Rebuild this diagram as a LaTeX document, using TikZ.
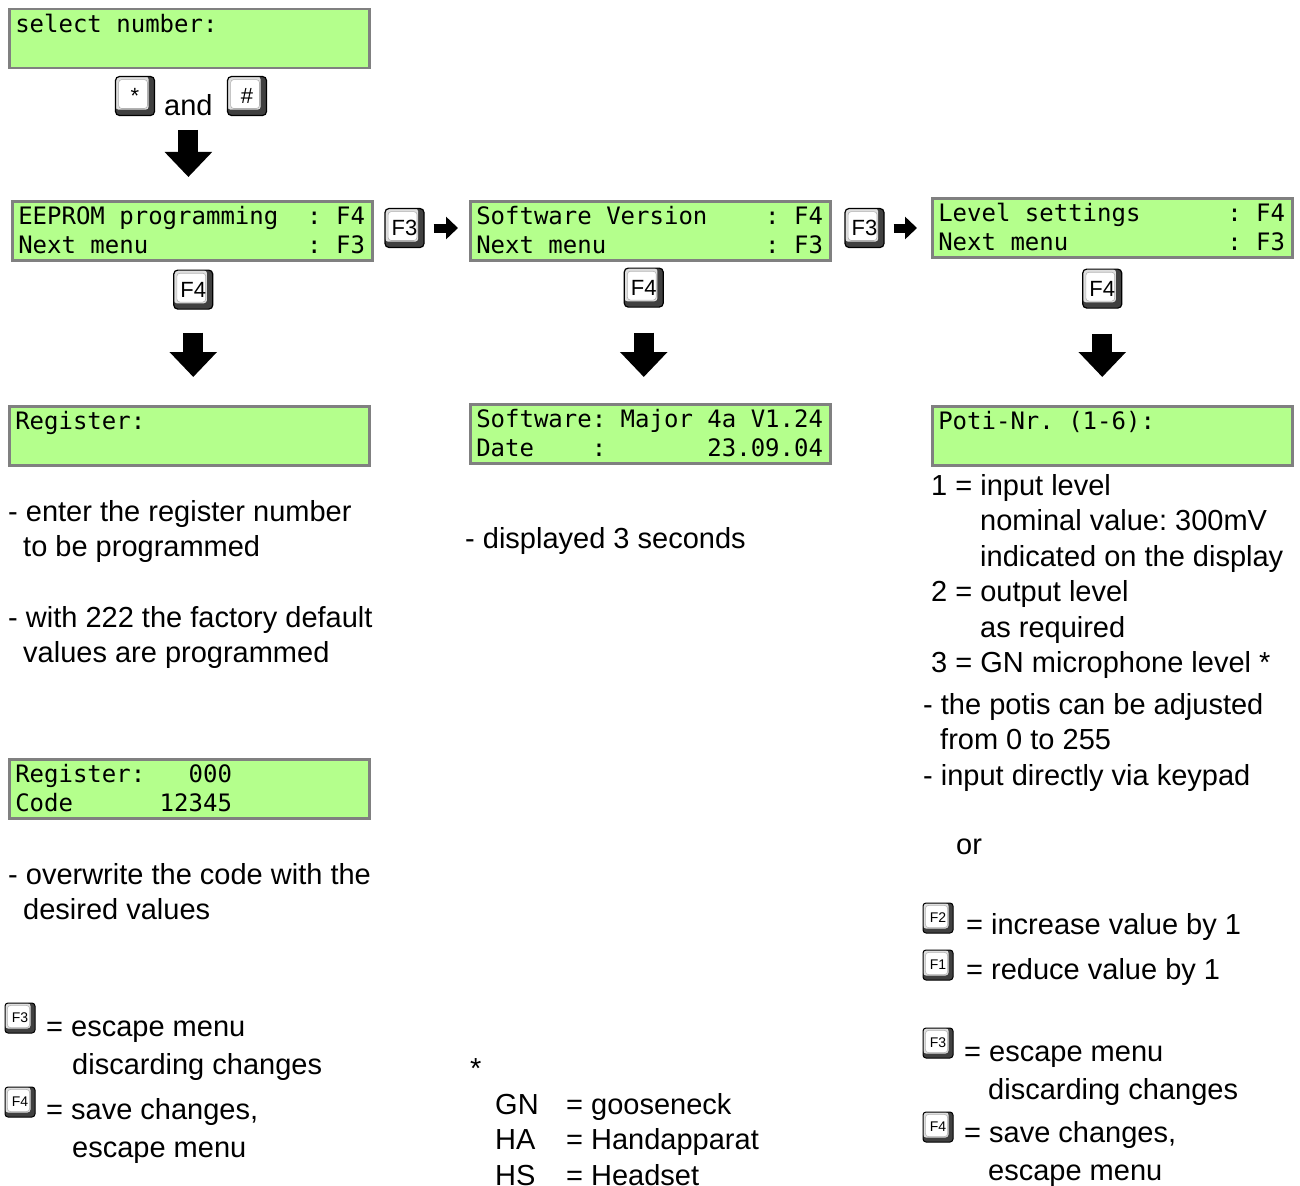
\documentclass[tikz,border=0pt]{standalone}
\usepackage{fontspec}
\setmainfont{Liberation Sans}
\newfontfamily\lcdfont{DejaVu Sans Mono}
\usetikzlibrary{positioning,calc,arrows.meta}
\definecolor{lcdgreen}{RGB}{180,255,140}
\definecolor{lcdframe}{RGB}{128,128,128}
\frenchspacing
% two display rows of fixed height
\newcommand\lcdrows[2]{\rule{0pt}{23pt}#1\\\rule[-6pt]{0pt}{6pt}#2}
% n character cells of the display
\newcommand\blanks[1]{\hspace*{#1\fontcharwd\font`0}}

\begin{document}
\begin{tikzpicture}[x=1pt, y=-1pt,
    lcd/.style={draw=lcdframe, line width=2.5pt, fill=lcdgreen, anchor=north west,
        minimum width=360pt, minimum height=59pt, text width=348pt,
        inner xsep=6pt, inner ysep=0pt, align=left,
        font=\lcdfont\fontsize{24}{29}\selectfont},
    keycap/.style={draw=black, line width=1.2pt, rounded corners=4pt, fill=black!75,
        inner sep=0pt,
        path picture={
            \fill[gray!25, rounded corners=3pt]
                (path picture bounding box.north west) rectangle
                ($(path picture bounding box.north west)!0.85!(path picture bounding box.south east)$);
            \filldraw[fill=white, draw=gray!60, line width=0.6pt, rounded corners=3pt]
                ($(path picture bounding box.north west)!0.08!(path picture bounding box.south east)$) rectangle
                ($(path picture bounding box.north west)!0.82!(path picture bounding box.south east)$);
        }},
    bigkey/.style={keycap, minimum size=39pt, font=\fontsize{22}{22}\selectfont},
    smallkey/.style={keycap, minimum size=30pt, line width=1pt, rounded corners=3pt,
        font=\fontsize{14}{14}\selectfont},
    txt/.style={anchor=north west, inner sep=0pt, align=left,
        font=\fontsize{29}{35.5}\selectfont},
    keytxt/.style={txt, font=\fontsize{29}{38}\selectfont},
    bigarrow/.style={line width=20pt, -{Triangle[width=46pt, length=25pt]}},
    smallarrow/.style={line width=9pt, -{Triangle[width=22pt, length=12pt]}}
    ]

    \useasboundingbox[fill=white] (0,0) rectangle (1300,1185);

    % start
    \node[lcd] (sel) at (8,8) {\lcdrows{select\blanks{1}number:}{}};
    \node[bigkey] (kStar) at (135,96) {*};
    \node[bigkey] (kHash) at (247,96) {\#};
    \node[txt] (andtxt) at (164,90) {\strut and};

    % menu row
    \node[lcd] (eeprom) at (11,200)
        {\lcdrows{EEPROM\blanks{1}programming\blanks{2}:\blanks{1}F4}{Next\blanks{1}menu\blanks{11}:\blanks{1}F3}};
    \node[bigkey] (kF3a) at (404.5,228) {F3};
    \node[lcd] (swver) at (469,200)
        {\lcdrows{Software\blanks{1}Version\blanks{4}:\blanks{1}F4}{Next\blanks{1}menu\blanks{11}:\blanks{1}F3}};
    \node[bigkey] (kF3b) at (864.5,228) {F3};
    \node[lcd] (level) at (931,197)
        {\lcdrows{Level\blanks{1}settings\blanks{6}:\blanks{1}F4}{Next\blanks{1}menu\blanks{11}:\blanks{1}F3}};

    \node[bigkey, below=8pt of eeprom, xshift=1pt] (kF4a) {F4};
    \node[bigkey, below=6pt of swver, xshift=-6.5pt] (kF4b) {F4};
    \node[bigkey, below=10pt of level, xshift=-10pt] (kF4c) {F4};

    % sub menus
    \node[lcd] (reg) at (8,405) {\lcdrows{Register:}{}};
    \node[lcd] (swinfo) at (469,403)
        {\lcdrows{Software:\blanks{1}Major\blanks{1}4a\blanks{1}V1.24}{Date\blanks{4}:\blanks{7}23.09.04}};
    \node[lcd] (poti) at (931,405) {\lcdrows{Poti-Nr.\blanks{1}(1-6):}{}};
    \node[lcd] (code) at (8,758) {\lcdrows{Register:\blanks{3}000}{Code\blanks{6}12345}};

    \draw[bigarrow, shorten >=23pt] ([yshift=-4pt]andtxt.south) -- (andtxt.south |- eeprom.north);
    \draw[smallarrow, shorten <=9pt, shorten >=11pt] (kF3a.east) -- (kF3a.east -| swver.west);
    \draw[smallarrow, shorten <=9pt, shorten >=14pt] (kF3b.east) -- (kF3b.east -| level.west);
    \draw[bigarrow, shorten <=23pt, shorten >=28pt] (kF4a.south) -- (kF4a.south |- reg.north);
    \draw[bigarrow, shorten <=25pt, shorten >=26pt] (kF4b.south) -- (kF4b.south |- swinfo.north);
    \draw[bigarrow, shorten <=25pt, shorten >=28pt] (kF4c.south) -- (kF4c.south |- poti.north);

    % left column
    \node[txt] (regHint) at (8,496.15)
        {\strut- enter the register number\\\hspace*{15pt}to be programmed};
    \node[txt] (defHint) at (8,602.15)
        {\strut- with 222 the factory default\\\hspace*{15pt}values are programmed};
    \node[txt] (codeHint) at (8,859.15)
        {\strut- overwrite the code with the\\\hspace*{15pt}desired values};
    \node[smallkey] (kF3l) at (20,1018) {F3};
    \node[keytxt] (escL) at (46,1009.4) {\rule{0pt}{26.6pt}= escape menu\\\hspace*{26pt}discarding changes};
    \node[smallkey] (kF4l) at (20,1102) {F4};
    \node[keytxt] (saveL) at (46,1092.4) {\rule{0pt}{26.6pt}= save changes,\\\hspace*{26pt}escape menu};

    % middle column
    \node[txt] (dispHint) at (465,523.15) {\strut- displayed 3 seconds};
    \node[txt] (starNote) at (470,1053.15) {\strut*};
    \node[txt] (abbr) at (495,1089.15) {\strut GN\\HA\\HS};
    \node[txt] (meaning) at (566,1089.15) {\strut= gooseneck\\= Handapparat\\= Headset};

    % right column
    \node[txt] (potiList) at (931,470.15)
        {\strut1 = input level\\\hspace*{49pt}nominal value: 300mV\\
         \hspace*{49pt}indicated on the display\\2 = output level\\
         \hspace*{49pt}as required\\3 = GN microphone level *};
    \node[txt] (potiHint) at (923,689.15)
        {\strut- the potis can be adjusted\\\hspace*{17pt}from 0 to 255\\- input directly via keypad};
    \node[txt] (orTxt) at (956,829.15) {\strut or};
    \node[smallkey] (kF2) at (938,918) {F2};
    \node[txt] (incTxt) at (966,909.15) {\strut= increase value by 1};
    \node[smallkey] (kF1) at (938,965) {F1};
    \node[txt] (redTxt) at (966,954.15) {\strut= reduce value by 1};
    \node[smallkey] (kF3r) at (938,1043) {F3};
    \node[keytxt] (escR) at (964,1034.4) {\rule{0pt}{26.6pt}= escape menu\\\hspace*{24pt}discarding changes};
    \node[smallkey] (kF4r) at (938,1127) {F4};
    \node[keytxt] (saveR) at (964,1115.4) {\rule{0pt}{26.6pt}= save changes,\\\hspace*{24pt}escape menu};
\end{tikzpicture}
\end{document}
